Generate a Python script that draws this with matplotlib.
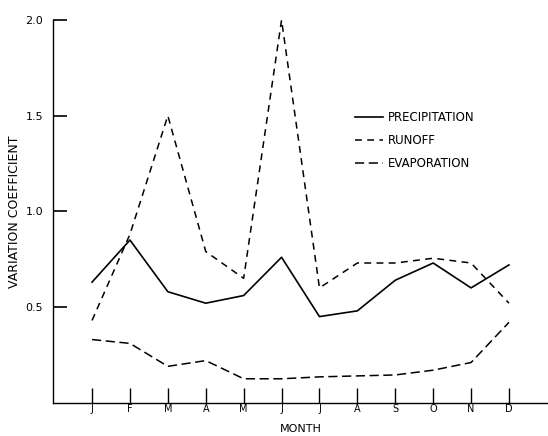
import matplotlib
matplotlib.use("Agg")
import matplotlib.pyplot as plt

months = ["J", "F", "M", "A", "M", "J", "J", "A", "S", "O", "N", "D"]
precipitation = [0.63, 0.85, 0.58, 0.52, 0.56, 0.76, 0.45, 0.48, 0.64, 0.73, 0.60, 0.72]
runoff = [0.43, 0.88, 1.50, 0.79, 0.65, 2.00, 0.60, 0.73, 0.73, 0.755, 0.73, 0.52]
evaporation = [0.33, 0.31, 0.19, 0.22, 0.125, 0.125, 0.135, 0.14, 0.145, 0.17, 0.21, 0.42]
y_ticks = [0.5, 1.0, 1.5, 2.0]
y_tick_labels = ["0.5", "1.0", "1.5", "2.0"]

plt.rcParams["font.family"] = ["DejaVu Sans"]

fig = plt.figure(figsize=(5.48, 4.36), dpi=100)
ax = fig.add_axes([53 / 548, 33.3 / 436, 1 - 53 / 548, 382.7 / 436])

x = list(range(len(months)))
ax.plot(x, precipitation, color="black", linewidth=1.2, label="PRECIPITATION")
ax.plot(x, runoff, color="black", linewidth=1.1, linestyle=(0, (4.5, 3.5)),
        label="RUNOFF")
ax.plot(x, evaporation, color="black", linewidth=1.1, linestyle=(0, (6, 3)),
        label="EVAPORATION")

ax.set_xlim(-1.03, 12.03)
ax.set_ylim(0, 2.0)

ax.spines["top"].set_visible(False)
ax.spines["right"].set_visible(False)
for s in ("left", "bottom"):
    ax.spines[s].set_linewidth(1.0)

ax.set_xticks(x)
ax.set_xticklabels(months, fontsize=7)
ax.set_yticks(y_ticks)
ax.set_yticklabels(y_tick_labels, fontsize=8)
ax.tick_params(axis="x", direction="in", length=11, width=1.0, pad=1)
ax.tick_params(axis="y", direction="in", length=10, width=1.2, pad=7)

ax.set_xlabel("MONTH", fontsize=8, labelpad=7)
ax.set_ylabel("VARIATION COEFFICIENT", fontsize=9, labelpad=3)

fig.legend(loc="upper left", bbox_to_anchor=(355 / 548, 1 - 111 / 436),
           frameon=False, fontsize=8.5, handlelength=2.4, handletextpad=0.4,
           labelspacing=0.85, borderpad=0, borderaxespad=0)

fig.savefig("out.png", dpi=100)
plt.close(fig)
